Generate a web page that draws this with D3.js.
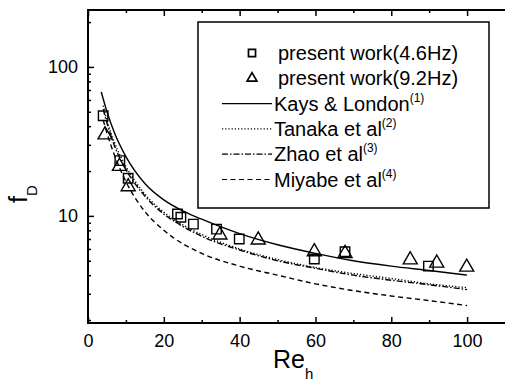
<!DOCTYPE html>
<html>
<head>
<meta charset="utf-8">
<script src="https://cdn.jsdelivr.net/npm/d3@7"></script>
<style>
  body { margin: 0; background: #fff; }
  svg { display: block; font-family: "Liberation Sans", Arial, sans-serif; }
</style>
</head>
<body>
<div id="chart"></div>
<script>
(function(global) {
"use strict";

// measured points
const squareRe = [4.0, 8.4, 10.6, 23.6, 24.5, 27.8, 33.9, 39.9, 59.7, 67.8, 89.8];
const squareF  = [47, 23.5, 17.9, 10.3, 9.8, 8.8, 8.15, 7.0, 5.14, 5.75, 4.6];
const triRe = [4.5, 8.3, 10.6, 34.8, 44.9, 59.7, 67.8, 85, 92, 99.9];
const triF  = [35, 21.5, 15.7, 7.45, 6.9, 5.75, 5.6, 5.07, 4.82, 4.53];

// correlations
const curveRe  = [3.5, 5, 7, 10, 15, 20, 25, 30, 40, 50, 60, 70, 80, 90, 100];
const kaysF    = [68, 50, 36, 25, 16.5, 12.8, 10.8, 9.5, 7.6, 6.4, 5.6, 5.0, 4.6, 4.3, 4.0];
const tanakaRe = [4, 5, 7, 10, 15, 20, 25, 30, 40, 50, 60, 70, 80, 90, 100];
const tanakaF  = [55, 44, 31, 21.5, 14, 10.6, 8.7, 7.5, 6.0, 5.1, 4.5, 4.1, 3.8, 3.5, 3.3];
const zhaoF    = [52, 42, 29.5, 20.5, 13.6, 10.3, 8.5, 7.3, 5.9, 5.0, 4.45, 4.0, 3.7, 3.45, 3.2];
const miyabeF  = [44, 36, 25.5, 17, 10.7, 8.0, 6.5, 5.6, 4.6, 4.0, 3.5, 3.15, 2.9, 2.7, 2.5];

const xTicks = [0, 20, 40, 60, 80, 100];
const yTicks = [10, 100];

const legendItems = [
  { kind: "square", text: "present work(4.6Hz)" },
  { kind: "tri",    text: "present work(9.2Hz)" },
  { kind: "line", dash: null,            text: "Kays & London", sup: "(1)" },
  { kind: "line", dash: "1.2,2",         text: "Tanaka et al",  sup: "(2)" },
  { kind: "line", dash: "6,2,1.5,2",     text: "Zhao et al",    sup: "(3)" },
  { kind: "line", dash: "5,3.5",         text: "Miyabe et al",  sup: "(4)" }
];

const W = 505, H = 383;
const left = 88, right = 505, top = 10, bottom = 323;

const svg = d3.select("#chart").append("svg")
  .attr("width", W).attr("height", H);

const x = d3.scaleLinear().domain([0, 110]).range([left, right]);
const y = d3.scaleLog().domain([1.91, 241]).range([bottom, top]);

svg.append("clipPath").attr("id", "plotclip")
  .append("rect").attr("x", left).attr("y", top)
  .attr("width", right - left).attr("height", bottom - top);

// ---- axes -------------------------------------------------------------------
const minorY = [2,3,4,5,6,7,8,9,20,30,40,50,60,70,80,90,200];
const minorX = [10, 30, 50, 70, 90];

const tickRow = (axis, pos, vals, size) => {
  svg.append("g")
    .attr("transform", pos)
    .call(axis.tickValues(vals).tickSize(-size).tickFormat(""))
    .call(g => g.select(".domain").remove())
    .call(g => g.selectAll("line").attr("stroke-width", 1.5));
};

svg.append("g")
  .attr("transform", `translate(0,${bottom})`)
  .call(d3.axisBottom(x).tickValues(xTicks).tickSize(-6).tickPadding(11).tickFormat(d3.format("d")))
  .call(g => g.select(".domain").remove())
  .call(g => g.selectAll("line").attr("stroke-width", 1.5))
  .call(g => g.selectAll("text").attr("font-size", 18).attr("fill", "#000"));
tickRow(d3.axisBottom(x), `translate(0,${bottom})`, minorX, 3);
tickRow(d3.axisTop(x), `translate(0,${top})`, xTicks, 6);
tickRow(d3.axisTop(x), `translate(0,${top})`, minorX, 3);

svg.append("g")
  .attr("transform", `translate(${left},0)`)
  .call(d3.axisLeft(y).tickValues(yTicks).tickSize(-6).tickPadding(10).tickFormat(d3.format("d")))
  .call(g => g.select(".domain").remove())
  .call(g => g.selectAll("line").attr("stroke-width", 1.5))
  .call(g => g.selectAll("text").attr("font-size", 18).attr("fill", "#000"));
tickRow(d3.axisLeft(y), `translate(${left},0)`, minorY, 3);

// frame (right side falls off the page)
svg.append("path")
  .attr("d", `M${right + 5},${top}H${left}V${bottom}H${right + 5}`)
  .attr("fill", "none").attr("stroke", "#000").attr("stroke-width", 2);

// axis titles
svg.append("text")
  .attr("x", 273).attr("y", 368)
  .attr("font-size", 25)
  .text("Re")
  .append("tspan").attr("dy", 11).attr("font-size", 15).text("h");

svg.append("text")
  .attr("transform", "translate(27,203) rotate(-90)")
  .attr("font-size", 25)
  .text("f")
  .append("tspan").attr("dy", 10).attr("font-size", 15).text("D");

// ---- curves -----------------------------------------------------------------
const plot = svg.append("g").attr("clip-path", "url(#plotclip)");

const line = d3.line()
  .x(d => x(d[0]))
  .y(d => y(d[1]))
  .curve(d3.curveMonotoneX);

const curves = [
  { re: curveRe,  f: kaysF,   dash: null },
  { re: tanakaRe, f: tanakaF, dash: "1.2,2" },
  { re: tanakaRe, f: zhaoF,   dash: "6,2,1.5,2" },
  { re: tanakaRe, f: miyabeF, dash: "5,3.5" }
];

curves.forEach(c => {
  plot.append("path")
    .datum(c.re.map((r, i) => [r, c.f[i]]))
    .attr("d", line)
    .attr("fill", "none")
    .attr("stroke", "#000")
    .attr("stroke-width", 1.4)
    .attr("stroke-dasharray", c.dash);
});

// ---- markers ----------------------------------------------------------------
const sq = d3.symbol().type(d3.symbolSquare).size(90);
const tri = d3.symbol().type(d3.symbolTriangle).size(85);

plot.selectAll("path.sq")
  .data(squareRe.map((r, i) => [r, squareF[i]]))
  .enter()
  .append("path")
  .classed("sq", true)
  .attr("d", sq)
  .attr("transform", d => `translate(${x(d[0])},${y(d[1])})`)
  .attr("fill", "none").attr("stroke", "#000").attr("stroke-width", 1.4);

plot.selectAll("path.tri")
  .data(triRe.map((r, i) => [r, triF[i]]))
  .enter()
  .append("path")
  .classed("tri", true)
  .attr("d", tri)
  .attr("transform", d => `translate(${x(d[0])},${y(d[1])})`)
  .attr("fill", "none").attr("stroke", "#000").attr("stroke-width", 1.4);

// ---- legend -----------------------------------------------------------------
const legend = svg.append("g");
legend.append("rect")
  .attr("x", 198).attr("y", 22).attr("width", 291).attr("height", 186)
  .attr("fill", "#fff").attr("stroke", "#000").attr("stroke-width", 1.5);

const rowY = i => 53 + i * 25.3;

legendItems.forEach((it, i) => {
  const cy = rowY(i);
  if (it.kind === "line") {
    legend.append("line")
      .attr("x1", 222).attr("x2", 272).attr("y1", cy).attr("y2", cy)
      .attr("stroke", "#000").attr("stroke-width", 1.2)
      .attr("stroke-dasharray", it.dash);
  } else {
    legend.append("path")
      .attr("d", (it.kind === "square" ? d3.symbol().type(d3.symbolSquare).size(50)
                                       : d3.symbol().type(d3.symbolTriangle).size(42))())
      .attr("transform", `translate(252,${cy})`)
      .attr("fill", "none").attr("stroke", "#000").attr("stroke-width", 1.7);
  }
  const t = legend.append("text")
    .attr("x", it.kind === "line" ? 274 : 278)
    .attr("y", cy + 7)
    .attr("font-size", 20)
    .text(it.text);
  if (it.sup) t.append("tspan").attr("dy", -9).attr("font-size", 12).text(it.sup);
});

})(this);
</script>
</body>
</html>
